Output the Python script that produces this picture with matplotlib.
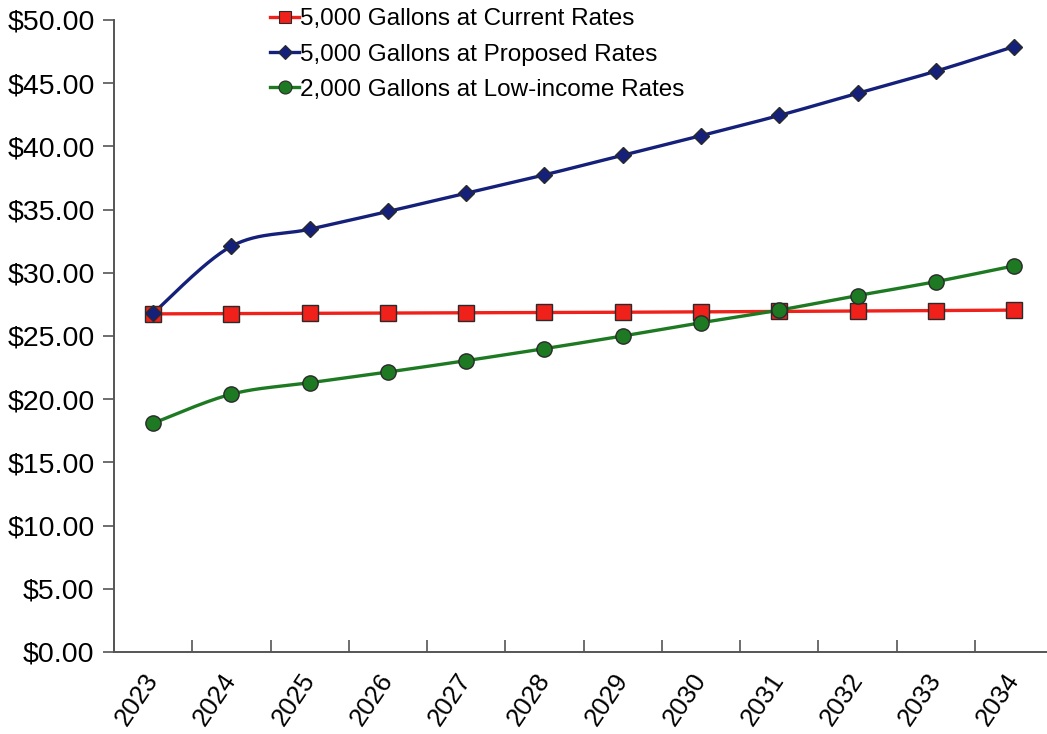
import numpy as np
import matplotlib
matplotlib.use("Agg")
import matplotlib.pyplot as plt
from matplotlib.ticker import FuncFormatter

plt.rcParams['font.family'] = ['Liberation Sans', 'DejaVu Sans']

years = ["2023", "2024", "2025", "2026", "2027", "2028",
         "2029", "2030", "2031", "2032", "2033", "2034"]
current_rates = [26.75, 26.77, 26.79, 26.81, 26.83, 26.86,
                 26.88, 26.91, 26.94, 26.98, 27.01, 27.05]
proposed_rates = [26.80, 32.10, 33.45, 34.85, 36.30, 37.75,
                  39.30, 40.85, 42.45, 44.20, 45.95, 47.90]
low_income_rates = [18.10, 20.40, 21.30, 22.15, 23.05, 24.00,
                    25.00, 26.05, 27.05, 28.20, 29.30, 30.55]


def smooth(xs, ys, n=30):
    """Cardinal-spline smoothing between consecutive points."""
    xs = np.asarray(xs, float)
    ys = np.asarray(ys, float)
    px = np.concatenate([[xs[0]], xs, [xs[-1]]])
    py = np.concatenate([[ys[0]], ys, [ys[-1]]])
    out_x, out_y = [], []
    t = np.linspace(0, 1, n)
    k = 1.0 / 6.0
    for i in range(1, len(px) - 2):
        p0 = np.array([px[i], py[i]])
        p3 = np.array([px[i + 1], py[i + 1]])
        p1 = p0 + k * (np.array([px[i + 1], py[i + 1]]) - np.array([px[i - 1], py[i - 1]]))
        p2 = p3 - k * (np.array([px[i + 2], py[i + 2]]) - np.array([px[i], py[i]]))
        b = ((1 - t) ** 3)[:, None] * p0 + (3 * (1 - t) ** 2 * t)[:, None] * p1 \
            + (3 * (1 - t) * t ** 2)[:, None] * p2 + (t ** 3)[:, None] * p3
        out_x.append(b[:, 0])
        out_y.append(b[:, 1])
    return np.concatenate(out_x), np.concatenate(out_y)


fig = plt.figure(figsize=(10.47, 7.34), dpi=100)
ax = fig.add_axes([114 / 1047, 82 / 734, 933 / 1047, 632 / 734])

x = np.arange(len(years))

series = [
    (current_rates, "5,000 Gallons at Current Rates", "#f0201a", "s", 11),
    (proposed_rates, "5,000 Gallons at Proposed Rates", "#14207a", "D", 8.5),
    (low_income_rates, "2,000 Gallons at Low-income Rates", "#1e7a22", "o", 11),
]

handles = []
for vals, label, color, marker, ms in series:
    sx, sy = smooth(x, vals)
    ax.plot(sx, sy, color=color, lw=2.4, solid_capstyle="round", zorder=2)
    ax.plot(x, vals, linestyle="none", marker=marker, markersize=ms,
            markerfacecolor=color, markeredgecolor="#2a2a2a",
            markeredgewidth=1.0, zorder=3)
    h, = ax.plot([], [], color=color, lw=2.4, marker=marker, markersize=ms * 0.85,
                 markerfacecolor=color, markeredgecolor="#2a2a2a",
                 markeredgewidth=0.8, label=label)
    handles.append(h)

ax.set_xlim(-0.5, 11.42)
ax.set_ylim(0, 50)
ax.set_yticks(np.arange(0, 50.1, 5))
ax.yaxis.set_major_formatter(FuncFormatter(lambda v, p: f"${v:,.2f}"))

ax.set_xticks(np.arange(-0.5, 11.5, 1.0))
ax.set_xticklabels([])
ax.set_xticks(x, minor=True)
ax.set_xticklabels(years, minor=True, rotation=56, ha="right", va="center",
                   rotation_mode="anchor", fontsize=18.5)
ax.tick_params(axis="x", which="minor", length=0, pad=17)
ax.tick_params(axis="x", which="major", direction="in", length=9,
               width=1.2, color="#555555")
ax.tick_params(axis="y", direction="out", length=8, width=1.2,
               color="#555555", labelsize=20.5, pad=6)

for side in ("top", "right"):
    ax.spines[side].set_visible(False)
for side in ("left", "bottom"):
    ax.spines[side].set_color("#555555")
    ax.spines[side].set_linewidth(1.4)

leg = ax.legend(handles=handles, loc="upper left",
                bbox_to_anchor=(253 / 1047, 1.012), bbox_transform=fig.transFigure,
                frameon=False, fontsize=17.5, handlelength=1.2,
                handletextpad=0.05, labelspacing=0.55, borderpad=0.2)

fig.savefig("out.png", dpi=100, facecolor="white")
